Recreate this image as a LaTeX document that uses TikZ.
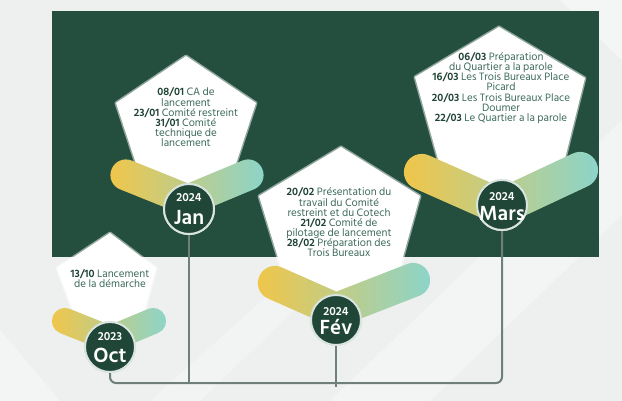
\documentclass[tikz,border=0pt]{standalone}
\usepackage{fontspec}
\setmainfont{Hind Siliguri}
\usetikzlibrary{calc}

\definecolor{paper}{HTML}{EEF0EF}
\definecolor{forest}{HTML}{244E3D}
\definecolor{disc}{HTML}{1F4636}
\definecolor{ring}{HTML}{D9E3DF}
\definecolor{txt}{HTML}{3D6B5B}
\definecolor{datec}{HTML}{1E4233}
\definecolor{wire}{HTML}{6F7F7A}
\definecolor{gold}{HTML}{F0C64A}
\definecolor{sage}{HTML}{CAD6A0}
\definecolor{aqua}{HTML}{8CD4CA}

\newcommand\dt[1]{\textbf{\color{datec}#1}}

% two rounded bars meeting in a V, shaded gold -> aqua
% #1 left end, #2 vertex, #3 right end, #4 half thickness (pt)
\newcommand\chevron[4]{%
  \coordinate (cA) at (#1); \coordinate (cV) at (#2); \coordinate (cB) at (#3);
  \coordinate (cA0) at ($(cA)!-#4pt!(cV)$);
  \coordinate (cV0) at ($(cV)!-#4pt!(cA)$);
  \coordinate (cV1) at ($(cV)!-#4pt!(cB)$);
  \coordinate (cB1) at ($(cB)!-#4pt!(cV)$);
  \begin{scope}
    \clip[rounded corners=#4pt-0.3pt]
      ($(cA0)!#4pt!90:(cV0)$) -- ($(cV0)!#4pt!-90:(cA0)$) --
      ($(cV0)!#4pt!90:(cA0)$) -- ($(cA0)!#4pt!-90:(cV0)$) -- cycle
      ($(cV1)!#4pt!90:(cB1)$) -- ($(cB1)!#4pt!-90:(cV1)$) --
      ($(cB1)!#4pt!90:(cV1)$) -- ($(cV1)!#4pt!-90:(cB1)$) -- cycle;
    \shade[left color=gold, middle color=sage, right color=aqua]
      ($(cA0)+(-2,-40)$) rectangle ($(cB1)+(2,80)$);
  \end{scope}}

\tikzset{
  note/.style={align=center, text=txt, font=\fontsize{11}{10.2}\selectfont, inner sep=0pt},
  pent/.style={fill=white, draw=white, line width=3pt, draw opacity=0.5, line join=round},
  disc/.style={circle, fill=disc, draw=ring, line width=2pt, minimum size=50pt, inner sep=0pt},
  yr/.style={text=white, inner sep=0pt, font=\fontsize{12}{12}\selectfont\bfseries},
  mon/.style={text=white, inner sep=0pt, font=\fontsize{21}{21}\selectfont\bfseries},
  wire/.style={draw=wire, line width=2pt, rounded corners=6pt},
}

\begin{document}
\begin{tikzpicture}[x=1pt, y=-1pt]
  \useasboundingbox (0,0) rectangle (622,401);

  % backdrop
  \fill[paper] (0,0) rectangle (622,401);
  \fill[white, opacity=0.35] (330,401) -- (430,401) -- (622,215) -- (622,120) -- cycle;
  \fill[white, opacity=0.25] (150,401) -- (200,401) -- (460,150) -- (430,150) -- cycle;
  \fill[white, opacity=0.35] (0,330) -- (0,401) -- (60,401) -- cycle;
  \fill[white, opacity=0.4] (560,0) -- (622,0) -- (622,60) -- cycle;

  % dark panel
  \fill[forest] (52,11) rectangle (599,257);

  % month discs
  \coordinate (bus) at (0,383);
  \node[disc] (oct)  at (110,347) {};
  \node[disc] (jan)  at (189,209) {};
  \node[disc] (fev)  at (336,320) {};
  \node[disc] (mars) at (502,205) {};

  % connectors
  \draw[wire] (oct.south) |- (mars.south |- bus) -- (mars.south);
  \draw[wire] (jan.south) -- (jan.south |- bus);
  \draw[wire] (fev.south) -- ($(fev.south |- bus)+(0,4)$);

  % pentagons
  \path[pent] (110,233) -- (156,268) -- (138,335) -- (82,335) -- (57,268) -- cycle;
  \path[pent] (186,56) -- (256,103) -- (229,185) -- (143,185) -- (116,103) -- cycle;
  \path[pent] (341,147) -- (420,196) -- (391,300) -- (291,300) -- (259,196) -- cycle;
  \path[pent] (499,27) -- (585,78) -- (556,195) -- (448,195) -- (415,77) -- cycle;

  % bars under the discs
  \chevron{65,321}{110,339}{153,321}{13}
  \chevron{126,175}{188,200}{248,175}{15.5}
  \chevron{275,283}{336,310}{413,280}{17}
  \chevron{422,172}{501,207}{580,170}{18}

  % discs on top of the bars
  \foreach \d in {oct,jan,fev,mars} \node[disc] at (\d) {};

  \node[yr]  (octy)  at ($(oct)+(0,-10)$)  {2023};
  \node[mon] (octm)  at ($(oct)+(0,8)$)    {Oct};
  \node[yr]  (jany)  at ($(jan)+(0,-11)$)  {2024};
  \node[mon] (janm)  at ($(jan)+(0,8)$)    {Jan};
  \node[yr]  (fevy)  at ($(fev)+(0,-8)$)   {2024};
  \node[mon] (fevm)  at ($(fev)+(0,7)$)    {Fév};
  \node[yr]  (marsy) at ($(mars)+(0,-8)$)  {2024};
  \node[mon] (marsm) at ($(mars)+(0,8)$)   {Mars};

  % notes
  \node[note] (octn) at (110,278.5)
    {\dt{13/10} Lancement\\de la démarche};
  \node[note] (jann) at (186,117.5)
    {\dt{08/01} CA de\\lancement\\\dt{23/01} Comité restreint\\\dt{31/01} Comité\\technique de\\lancement};
  \node[note] (fevn) at (339,222.5)
    {\dt{20/02} Présentation du\\travail du Comité\\restreint et du Cotech\\\dt{21/02} Comité de\\pilotage de lancement\\\dt{28/02} Préparation des\\Trois Bureaux};
  \node[note] (marsn) at (501,88)
    {\dt{06/03} Préparation\\du Quartier a la parole\\\dt{16/03} Les Trois Bureaux Place\\Picard\\\dt{20/03} Les Trois Bureaux Place\\Doumer\\\dt{22/03} Le Quartier a la parole};
\end{tikzpicture}
\end{document}
